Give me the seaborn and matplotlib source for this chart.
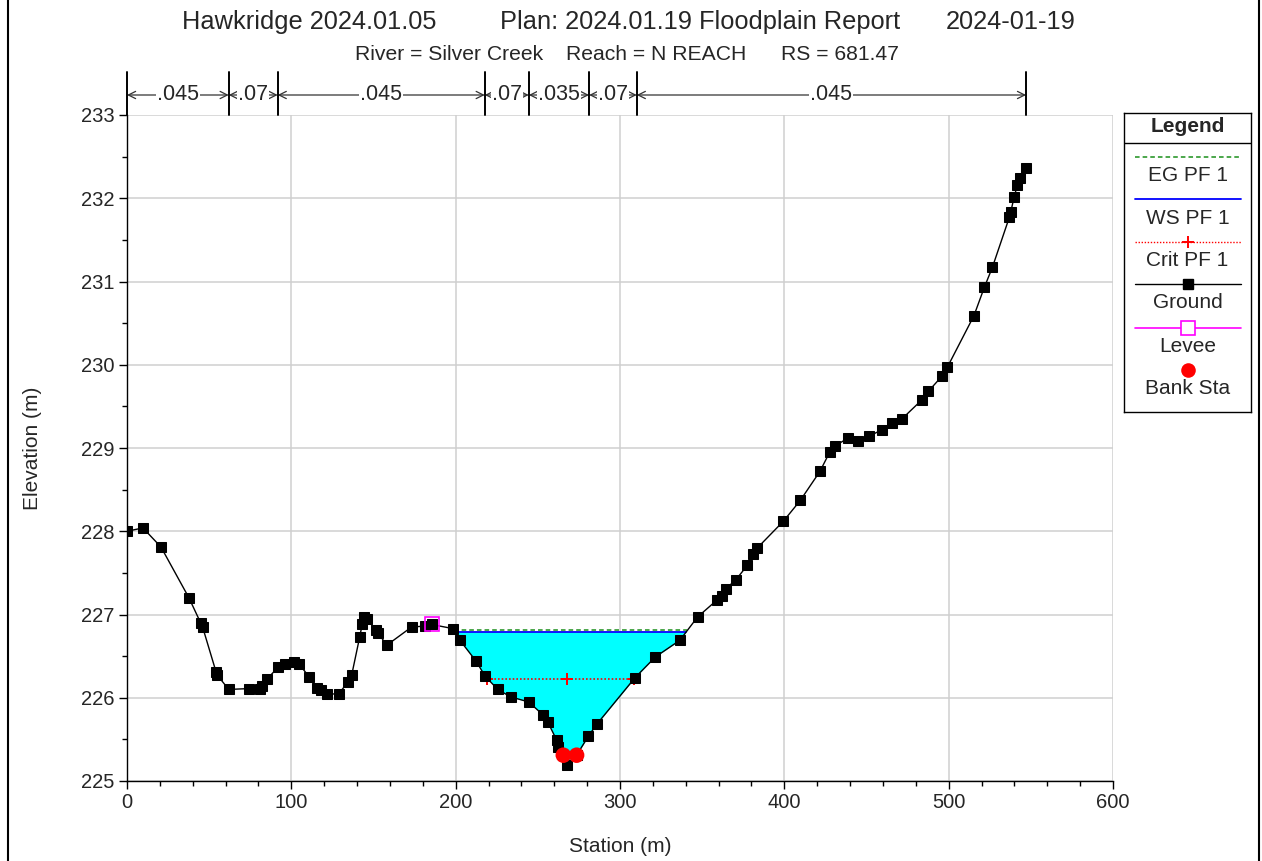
import numpy as np
import matplotlib
matplotlib.use("Agg")
import matplotlib.pyplot as plt
from matplotlib.lines import Line2D
from matplotlib.ticker import MultipleLocator
import matplotlib.transforms as mtransforms
import seaborn as sns

# ---- cross-section data -------------------------------------------------
station = [0.0, 9.7, 20.7, 37.7, 44.8, 46.0, 54.2, 55.0, 61.9, 74.2,
           80.7, 82.4, 85.0, 92.1, 96.0, 101.8, 104.9, 110.9, 115.4, 117.9,
           121.9, 128.8, 134.7, 136.7, 141.6, 143.2, 144.2, 146.2, 151.3, 152.9,
           158.0, 173.2, 181.1, 185.4, 198.5, 202.6, 212.4, 217.9, 225.6, 233.5,
           244.4, 253.4, 256.0, 261.5, 262.5, 265.5, 267.6, 273.6, 280.8, 285.8,
           309.1, 321.5, 336.4, 347.2, 358.8, 361.9, 364.5, 370.6, 377.5, 381.1,
           383.6, 399.4, 409.7, 421.7, 427.6, 430.6, 438.7, 444.6, 451.5, 459.4,
           465.5, 471.6, 483.8, 487.6, 495.8, 499.2, 515.4, 521.7, 526.6, 536.9,
           537.7, 539.8, 541.8, 543.4, 547.1]
elevation = [228.00, 228.04, 227.81, 227.20, 226.90, 226.85, 226.31, 226.27, 226.10, 226.11,
             226.11, 226.14, 226.22, 226.37, 226.41, 226.43, 226.40, 226.25, 226.12, 226.09,
             226.04, 226.05, 226.19, 226.27, 226.73, 226.89, 226.97, 226.95, 226.81, 226.78,
             226.63, 226.85, 226.86, 226.88, 226.83, 226.69, 226.44, 226.26, 226.10, 226.01,
             225.95, 225.79, 225.71, 225.49, 225.41, 225.31, 225.19, 225.31, 225.54, 225.68,
             226.24, 226.49, 226.69, 226.97, 227.17, 227.22, 227.31, 227.42, 227.59, 227.73,
             227.80, 228.12, 228.37, 228.72, 228.95, 229.02, 229.12, 229.09, 229.14, 229.22,
             229.30, 229.35, 229.58, 229.68, 229.86, 229.97, 230.59, 230.93, 231.17, 231.77,
             231.83, 232.01, 232.16, 232.24, 232.36]

bank_stations = [265.5, 273.6]
levee_station = [185.4]

eg_pf1 = 226.81
ws_pf1 = 226.79
crit_pf1 = 226.23

n_breaks = [0.0, 61.9, 91.7, 217.7, 244.5, 281.2, 310.2, 547.1]
n_values = [".045", ".07", ".045", ".07", ".035", ".07", ".045"]

title_parts = ["Hawkridge 2024.01.05", "Plan: 2024.01.19 Floodplain Report", "2024-01-19"]
subtitle_parts = ["River = Silver Creek", "Reach = N REACH", "RS = 681.47"]
legend_labels = ["EG PF 1", "WS PF 1", "Crit PF 1", "Ground", "Levee", "Bank Sta"]

# ---- style --------------------------------------------------------------
sns.set_style("white")
plt.rcParams["font.family"] = ["Liberation Sans", "DejaVu Sans"]
plt.rcParams["axes.linewidth"] = 1.0

EG_COLOR = "#1a8f1a"
WS_COLOR = "#0000ff"
CRIT_COLOR = "#ff0000"
LEVEE_COLOR = "#ff00ff"

sta = np.asarray(station)
gnd = np.asarray(elevation)


def channel_extent(level):
    """Left/right stations where a water level meets the main channel banks."""
    i0 = int(np.argmin(gnd))
    i = i0
    while gnd[i] < level:
        i -= 1
    left = np.interp(level, [gnd[i + 1], gnd[i]], [sta[i + 1], sta[i]])
    j = i0
    while gnd[j] < level:
        j += 1
    right = np.interp(level, [gnd[j - 1], gnd[j]], [sta[j - 1], sta[j]])
    return left, right


W, H = 1262, 861
fig = plt.figure(figsize=(W / 100, H / 100), dpi=100)
ax = fig.add_axes([127 / W, 1 - 781 / H, 986 / W, 666 / H])

# water area in the main channel
ax.fill_between(sta, gnd, ws_pf1,
                where=(gnd < ws_pf1) & (sta > levee_station[0]),
                interpolate=True, color="#00ffff", linewidth=0, zorder=1)

# water surface, energy grade, critical depth
wl, wr = channel_extent(ws_pf1)
ax.plot([wl, wr], [ws_pf1, ws_pf1], color=WS_COLOR, lw=1.3, zorder=3)
el, er = channel_extent(eg_pf1)
ax.plot([el, er], [eg_pf1, eg_pf1], color=EG_COLOR, lw=1.1,
        linestyle=(0, (3, 2)), zorder=4)
cl, cr = channel_extent(crit_pf1)
thalweg = sta[np.argmin(gnd)]
ax.plot([cl, cr], [crit_pf1, crit_pf1], color=CRIT_COLOR, lw=1.2,
        linestyle=(0, (1, 1.2)), zorder=4)
ax.plot([cl, thalweg, cr], [crit_pf1] * 3, linestyle="none", marker="+",
        color=CRIT_COLOR, ms=9, mew=1.4, zorder=4)

# ground profile
sns.lineplot(x=sta, y=gnd, ax=ax, color="black", linewidth=1.0, marker="s",
             markersize=7, markeredgecolor="black", sort=False,
             estimator=None, zorder=5)

# levee marker
lev_elev = np.interp(levee_station, sta, gnd)
ax.plot(levee_station, lev_elev, linestyle="none", marker="s", ms=9.5,
        mfc="none", mec=LEVEE_COLOR, mew=1.2, zorder=6)

# bank stations
bank_elev = np.interp(bank_stations, sta, gnd)
sns.scatterplot(x=bank_stations, y=bank_elev, ax=ax, color="red", s=125,
                edgecolor="none", zorder=7)

# axes formatting
ax.set_xlim(0, 600)
ax.set_ylim(225, 233)
ax.xaxis.set_major_locator(MultipleLocator(100))
ax.xaxis.set_minor_locator(MultipleLocator(20))
ax.yaxis.set_major_locator(MultipleLocator(1))
ax.yaxis.set_minor_locator(MultipleLocator(0.5))
ax.tick_params(which="major", direction="out", length=6, width=1.0,
               labelsize=14.5, pad=3, color="black", bottom=True, left=True)
ax.tick_params(which="minor", direction="out", length=3.5, width=1.0,
               bottom=True, left=True, color="black")
ax.grid(True, which="major", color="#cfcfcf", linewidth=1.1, zorder=0)
ax.set_axisbelow(True)
for side in ("top", "right"):
    ax.spines[side].set_visible(False)
for side in ("left", "bottom"):
    ax.spines[side].set_color("black")

ax.set_xlabel("Station (m)", fontsize=15)
ax.xaxis.set_label_coords(0.5, (781 - 846) / 666)
ax.xaxis.label.set_va("center")
ax.set_ylabel("Elevation (m)", fontsize=15)
ax.yaxis.set_label_coords((32 - 127) / 986, 0.5)
ax.yaxis.label.set_va("center")

# Manning's n bar above the plot
trans = mtransforms.blended_transform_factory(ax.transData, ax.transAxes)
y_top = (781 - 72) / 666
y_arrow = (781 - 95) / 666
for b in n_breaks:
    ax.add_line(Line2D([b, b], [1.0, y_top], transform=trans, color="black",
                       lw=1.4, clip_on=False, zorder=8))
for x0, x1, nv in zip(n_breaks[:-1], n_breaks[1:], n_values):
    ax.annotate("", xy=(x1, y_arrow), xytext=(x0, y_arrow),
                xycoords=trans, textcoords=trans, annotation_clip=False,
                arrowprops=dict(arrowstyle="<->", color="#333333", lw=0.9,
                                shrinkA=0, shrinkB=0, mutation_scale=13))
    ax.text((x0 + x1) / 2, y_arrow, nv, transform=trans, ha="center",
            va="center", fontsize=15.5, zorder=9,
            bbox=dict(boxstyle="square,pad=0.05", fc="white", ec="none"))

# titles
for x, t in zip([182, 500, 946], title_parts):
    fig.text(x / W, 1 - 22 / H, t, ha="left", va="center", fontsize=18.3)
for x, t in zip([355, 566, 781], subtitle_parts):
    fig.text(x / W, 1 - 54 / H, t, ha="left", va="center", fontsize=15.2)

# legend panel
lg = fig.add_axes([1124 / W, 1 - 412 / H, 127 / W, 299 / H])
lg.set_xlim(0, 127)
lg.set_ylim(299, 0)
lg.set_xticks([])
lg.set_yticks([])
for s in lg.spines.values():
    s.set_color("black")
    s.set_linewidth(1.0)
lg.text(63.5, 14, "Legend", ha="center", va="center", fontsize=15,
        fontweight="bold")
lg.plot([0, 127], [30, 30], color="black", lw=1.0)
x0, x1, xm = 11, 117, 64
lg.plot([x0, x1], [43.7, 43.7], color=EG_COLOR, lw=1.1, linestyle=(0, (3, 2)))
lg.plot([x0, x1], [86.3, 86.3], color=WS_COLOR, lw=1.3)
lg.plot([x0, x1], [129.3, 129.3], color=CRIT_COLOR, lw=1.0, linestyle=(0, (1, 1.2)))
lg.plot([xm], [129.3], marker="+", color=CRIT_COLOR, ms=9, mew=1.4)
lg.plot([x0, x1], [171, 171], color="black", lw=1.0)
lg.plot([xm], [171], marker="s", color="black", ms=7)
lg.plot([x0, x1], [215.3, 215.3], color=LEVEE_COLOR, lw=1.2)
lg.plot([xm], [215.3], marker="s", ms=9.5, mfc="white", mec=LEVEE_COLOR, mew=1.2)
lg.plot([xm], [257], marker="o", color="red", ms=10.5, mec="none")
for y, t in zip([62.7, 105.3, 147, 189.7, 233.7, 275.3], legend_labels):
    lg.text(63.5, y, t, ha="center", va="center", fontsize=15)

# outer frame edges
for xp in (8, 1259):
    fig.add_artist(Line2D([xp / W, xp / W], [0, 1], transform=fig.transFigure,
                          color="black", lw=1.5))

fig.savefig("out.png", dpi=100)
